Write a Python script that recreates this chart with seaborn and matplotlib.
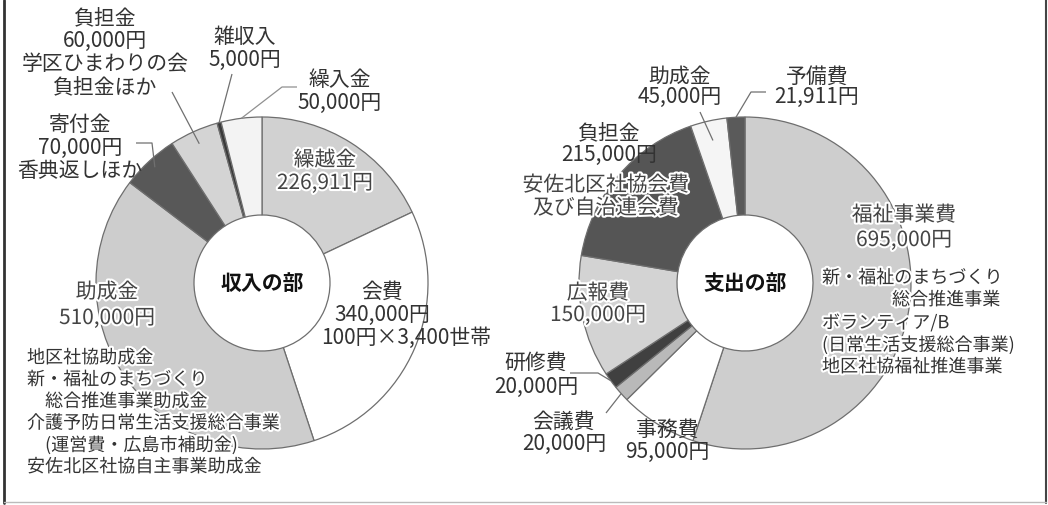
import numpy as np
import matplotlib
matplotlib.use("Agg")
import matplotlib.pyplot as plt
import matplotlib.patheffects as pe
import seaborn as sns

# ---------------- data ----------------
income_labels = ['繰越金', '会費', '助成金', '寄付金', '負担金', '雑収入', '繰入金']
income_values = [226911, 340000, 510000, 70000, 60000, 5000, 50000]
income_colors = ['#d1d1d1', '#ffffff', '#cdcdcd', '#585858', '#d4d4d4', '#3a3a3a', '#f3f3f3']
income_title = '収入の部'

expense_labels = ['福祉事業費', '事務費', '会議費', '研修費', '広報費', '負担金', '助成金', '予備費']
expense_values = [695000, 95000, 20000, 20000, 150000, 215000, 45000, 21911]
expense_colors = ['#cecece', '#ffffff', '#b9b9b9', '#404040', '#d3d3d3', '#555555', '#f5f5f5', '#5a5a5a']
expense_title = '支出の部'

income_notes = {
    '負担金': ['学区ひまわりの会', '負担金ほか'],
    '寄付金': ['香典返しほか'],
    '会費': ['100円×3,400世帯'],
}
income_grant_notes = ['地区社協助成金', '新・福祉のまちづくり', '　総合推進事業助成金',
                      '介護予防日常生活支援総合事業', '　(運営費・広島市補助金)', '安佐北区社協自主事業助成金']
expense_notes = {
    '負担金': ['安佐北区社協会費', '及び自治連会費'],
}
expense_welfare_notes = ['新・福祉のまちづくり', '総合推進事業', 'ボランティア/B',
                         '(日常生活支援総合事業)', '地区社協福祉推進事業']

# ---------------- style ----------------
sns.set_theme(style="white")
plt.rcParams['font.family'] = ['Noto Sans CJK JP', 'DejaVu Sans']

W, H = 1048, 505
fig = plt.figure(figsize=(W / 100, H / 100), dpi=100)
ax = fig.add_axes([0, 0, 1, 1])

TXT = '#333333'
LBL = 15
SML = 13
R = 166
HOLE_W = 98

def donut(values, colors, center):
    wedges, _ = ax.pie(values, colors=colors, radius=R, center=center,
                       startangle=-90, counterclock=True,
                       wedgeprops=dict(width=HOLE_W, edgecolor='#6e6e6e', linewidth=0.9))
    return wedges

inc_center = (262, 283)
exp_center = (745, 283)
inc_w = donut(income_values, income_colors, inc_center)
exp_w = donut(expense_values, expense_colors, exp_center)

ax.set_xlim(0, W)
ax.set_ylim(H, 0)
ax.set_aspect('equal')
ax.axis('off')

def anchor(w, frac):
    th = np.deg2rad((w.theta1 + w.theta2) / 2)
    cx, cy = w.center
    return cx + w.r * frac * np.cos(th), cy + w.r * frac * np.sin(th)

def leader(points, w, frac, color='#707070', lw=0.9):
    ax_, ay_ = anchor(w, frac)
    xs = [p[0] for p in points] + [ax_]
    ys = [p[1] for p in points] + [ay_]
    ax.plot(xs, ys, color=color, lw=lw, solid_capstyle='butt')

halo = [pe.withStroke(linewidth=3, foreground='white')]

def lines(x, y0, step, texts, size=LBL, ha='center', color=TXT, effects=None):
    for i, t in enumerate(texts):
        ax.text(x, y0 + i * step, t, fontsize=size, ha=ha, va='center', color=color,
                path_effects=effects)

def yen(v):
    return f'{v:,}円'

iv = dict(zip(income_labels, income_values))
ev = dict(zip(expense_labels, expense_values))
iw = dict(zip(income_labels, inc_w))
ew = dict(zip(expense_labels, exp_w))

# ---------------- income labels ----------------
lines(105, 18, 23, ['負担金', yen(iv['負担金'])] + income_notes['負担金'])
leader([(172, 92)], iw['負担金'], 0.92)
lines(80, 125, 23, ['寄付金', yen(iv['寄付金'])] + income_notes['寄付金'])
leader([(136, 143), (152, 143)], iw['寄付金'], 0.95)
lines(245, 37, 23, ['雑収入', yen(iv['雑収入'])])
leader([(232, 74)], iw['雑収入'], 1.0)
lines(340, 80, 23, ['繰入金', yen(iv['繰入金'])])
leader([(297, 87), (282, 87)], iw['繰入金'], 1.0, color='#909090')
lines(325, 160, 23, ['繰越金', yen(iv['繰越金'])], color='#444444', effects=halo)
lines(382, 292, 23, ['会費', yen(iv['会費'])])
ax.text(406, 338, income_notes['会費'][0], fontsize=LBL, ha='center', va='center', color=TXT)
lines(107, 292, 26, ['助成金', yen(iv['助成金'])], color='#444444', effects=halo)
for i, t in enumerate(income_grant_notes):
    ax.text(27, 358 + i * 21.8, t, fontsize=SML, ha='left', va='center', color=TXT,
            path_effects=halo)
ax.text(inc_center[0], inc_center[1], income_title, fontsize=LBL, fontweight='bold',
        ha='center', va='center', color='#111111')

# ---------------- expense labels ----------------
lines(904, 215, 25, ['福祉事業費', yen(ev['福祉事業費'])], color='#444444', effects=halo)
ax.text(822, 278, expense_welfare_notes[0], fontsize=SML, ha='left', va='center', color=TXT, path_effects=halo)
ax.text(1000, 300, expense_welfare_notes[1], fontsize=SML, ha='right', va='center', color=TXT, path_effects=halo)
for i, t in enumerate(expense_welfare_notes[2:]):
    ax.text(822, 323 + i * 22, t, fontsize=SML, ha='left', va='center', color=TXT, path_effects=halo)
lines(667, 430, 22, ['事務費', yen(ev['事務費'])])
lines(564, 422, 22, ['会議費', yen(ev['会議費'])])
leader([(606, 413)], ew['会議費'], 1.0)
lines(536, 363, 24, ['研修費', yen(ev['研修費'])])
leader([(570, 373), (598, 373)], ew['研修費'], 1.0)
lines(598, 293, 22, ['広報費', yen(ev['広報費'])], color='#444444', effects=halo)
lines(609, 133, 22, ['負担金', yen(ev['負担金'])])
lines(606, 185, 23, expense_notes['負担金'], color='#444444', effects=halo)
lines(680, 77, 20, ['助成金', yen(ev['助成金'])])
leader([(700, 112)], ew['助成金'], 0.88)
lines(817, 77, 20, ['予備費', yen(ev['予備費'])])
leader([(766, 92), (751, 92)], ew['予備費'], 1.0)
ax.text(exp_center[0], exp_center[1], expense_title, fontsize=LBL, fontweight='bold',
        ha='center', va='center', color='#111111')

# ---------------- frame ----------------
ax.plot([4, 4], [0, 503], color='#333333', lw=2)
ax.plot([1046, 1046], [0, 503], color='#444444', lw=1.5)
ax.plot([4, 1046], [502, 502], color='#bbbbbb', lw=1)

fig.savefig('out.png', dpi=100)
